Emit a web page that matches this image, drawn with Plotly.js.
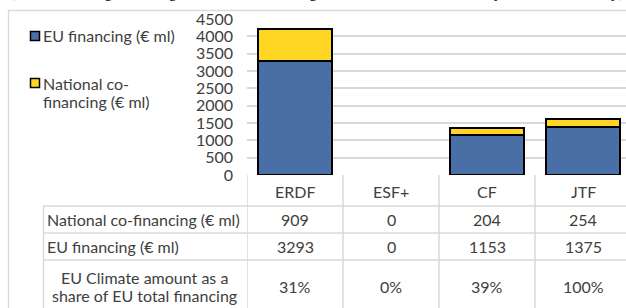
<!DOCTYPE html>
<html><head><meta charset="utf-8">
<script src="https://cdn.plot.ly/plotly-3.0.1.min.js"></script>
<style>html,body{margin:0;padding:0;overflow:hidden;background:#fff}</style>
</head><body>
<div id="chart" style="width:626px;height:308px"></div>
<script>
// ---- data ----
const funds = ["ERDF", "ESF+", "CF", "JTF"];
const euFinancing = [3293, 0, 1153, 1375];
const nationalCofinancing = [909, 0, 204, 254];
const climateShare = ["31%", "0%", "39%", "100%"];
const seriesNames = ["EU financing (€ ml)", "National co-financing (€ ml)"];
const rowLabels = ["National co-financing (€ ml)", "EU financing (€ ml)", ["EU Climate amount as a", "share of EU total financing"]];
const yTicks = [0, 500, 1000, 1500, 2000, 2500, 3000, 3500, 4000, 4500];

// ---- layout helpers (pixel -> paper) ----
const W = 626, H = 308, L = 247, T = 19, B = 175;
const PW = W - L, PH = B - T;
const px = x => (x - L) / PW;
const py = y => (B - y) / PH;
const font = "Lato, 'Open Sans', sans-serif";
const FS = 16;
const txt = "#404040";
const grid = "#D9D9D9";
const blue = "#4A6EA6", yellow = "#FFD624";

const traces = [
  {type: "bar", x: funds, y: euFinancing, name: seriesNames[0],
   marker: {color: blue, line: {color: "#000", width: euFinancing.map(v => v > 0 ? 2 : 0)}}, hoverinfo: "skip"},
  {type: "bar", x: funds, y: nationalCofinancing, name: seriesNames[1],
   marker: {color: yellow, line: {color: "#000", width: nationalCofinancing.map(v => v > 0 ? 2 : 0)}}, hoverinfo: "skip"}
];

const shapes = [], annotations = [];
const tfont = {family: font, size: FS, color: txt};
// chart area border
shapes.push({type: "rect", xref: "paper", yref: "paper", x0: px(8.5), x1: px(700), y0: py(400), y1: py(10.5),
  line: {color: "#D9D9D9", width: 1.3}, layer: "below"});
// table lines
const colEdges = [-0.5, 0.5, 1.5, 2.5, 3.5];
colEdges.forEach(c => shapes.push({type: "line", xref: "x", yref: "paper", x0: c, x1: c, y0: py(175), y1: py(320),
  line: {color: grid, width: 1.5}}));
shapes.push({type: "line", xref: "paper", yref: "paper", x0: px(43.5), x1: px(43.5), y0: py(206), y1: py(320), line: {color: grid, width: 1.5}});
[206, 233, 260].forEach(y => shapes.push({type: "line", xref: "paper", yref: "paper", x0: px(43), x1: px(700), y0: py(y), y1: py(y),
  line: {color: grid, width: 1.5}}));
// legend
const legendItems = [
  {color: blue, top: 31.5, lines: [seriesNames[0]], ys: [36]},
  {color: yellow, top: 78.5, lines: ["National co-", "financing (€ ml)"], ys: [83, 101]}
];
legendItems.forEach(it => {
  shapes.push({type: "rect", xref: "paper", yref: "paper", x0: px(30.5), x1: px(39.5), y0: py(it.top), y1: py(it.top + 9),
    fillcolor: it.color, line: {color: "#000", width: 1.5}});
  it.lines.forEach((ln, k) => annotations.push({xref: "paper", yref: "paper", x: px(41), y: py(it.ys[k]), xanchor: "left",
    yanchor: "middle", text: ln, showarrow: false, align: "left", font: tfont}));
});
// table header + cells
const rowY = [219.5, 246.5, 286];
funds.forEach((f, i) => {
  annotations.push({xref: "x", yref: "paper", x: f, y: py(191), text: f, showarrow: false, yanchor: "middle", font: tfont});
  const rows = [nationalCofinancing[i], euFinancing[i], climateShare[i]];
  rows.forEach((v, r) => annotations.push({xref: "x", yref: "paper", x: f, y: py(rowY[r]), text: String(v),
    showarrow: false, yanchor: "middle", font: tfont}));
});
annotations.push({xref: "paper", yref: "paper", x: px(45), xanchor: "left", y: py(rowY[0]), yanchor: "middle",
  text: rowLabels[0], showarrow: false, font: tfont});
annotations.push({xref: "paper", yref: "paper", x: px(45), xanchor: "left", y: py(rowY[1]), yanchor: "middle",
  text: rowLabels[1], showarrow: false, font: tfont});
rowLabels[2].forEach((ln, k) => annotations.push({xref: "paper", yref: "paper", x: px(144), xanchor: "center",
  y: py([277, 295][k]), yanchor: "middle", text: ln, showarrow: false, font: tfont}));
// clipped caption line above the chart
annotations.push({xref: "paper", yref: "paper", x: px(8), xanchor: "left", y: py(3), yanchor: "bottom",
  text: "(Total financing including national co-financing and the EU climate share by Fund and country)",
  showarrow: false, font: {family: "'Liberation Serif', serif", size: 16, color: "#000"}});

const layout = {
  width: W, height: H, margin: {l: L, r: 0, t: T, b: H - B, pad: 0},
  paper_bgcolor: "#fff", plot_bgcolor: "#fff", showlegend: false, barmode: "stack", bargap: 0.23,
  xaxis: {type: "category", range: [-0.5, -0.5 + PW / 96], showticklabels: false, showgrid: false,
    zeroline: false, showline: false, ticks: "", fixedrange: true},
  yaxis: {range: [0, 4500], tickvals: yTicks, ticktext: yTicks.map(String), showgrid: true, gridcolor: grid, gridwidth: 2,
    zeroline: false, showline: false, ticks: "", ticklabelstandoff: 13, tickfont: tfont, fixedrange: true},
  shapes, annotations,
  font: {family: font, color: txt}
};
Plotly.newPlot("chart", traces, layout, {staticPlot: true, displayModeBar: false});
</script>
</body></html>
